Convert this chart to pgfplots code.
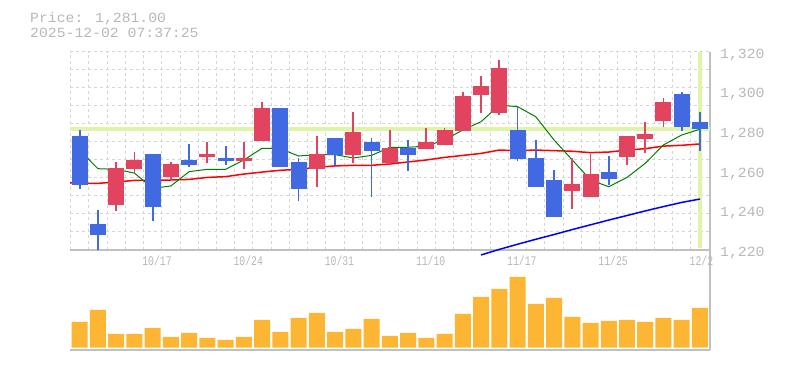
\documentclass[border=0pt]{standalone}
\usepackage{fontspec}
\usepackage{graphicx}
\usepackage{pgfplots}
\pgfplotsset{compat=1.18}
\usepackage{pgfplotstable}
\setmainfont{Liberation Mono}

\definecolor{upcol}{RGB}{226,67,95}
\definecolor{dncol}{RGB}{65,105,225}
\definecolor{volcol}{RGB}{252,182,52}
\definecolor{hlcol}{RGB}{224,244,168}
\definecolor{gridcol}{RGB}{214,214,214}
\definecolor{bordercol}{RGB}{192,192,192}
\definecolor{txtcol}{RGB}{184,184,184}
\definecolor{maA}{RGB}{0,128,0}
\definecolor{maB}{RGB}{255,0,0}
\definecolor{maC}{RGB}{0,0,255}

\newcommand\bigtxt[1]{{\fontsize{14}{14}\selectfont\scalebox{1.055}[1]{#1}}}
\newcommand\xl[1]{{\fontsize{13.2}{13.2}\selectfont\scalebox{0.74}[1]{#1}}}

\pgfplotstableread{
x o h l c
2 1242.9 1264.4 1239.8 1261.4
3 1261.0 1269.4 1258.7 1265.4
5 1257.0 1264.4 1255.3 1263.4
7 1267.0 1274.6 1264.0 1268.4
9 1265.0 1274.6 1261.0 1266.4
10 1275.1 1294.6 1275.1 1291.6
13 1261.0 1277.5 1251.9 1268.4
15 1268.1 1289.6 1264.0 1279.5
17 1264.0 1280.5 1262.7 1271.4
19 1271.1 1281.5 1271.1 1274.5
20 1273.1 1281.5 1273.1 1280.5
21 1280.2 1299.7 1280.2 1297.7
22 1298.3 1307.7 1289.2 1302.7
23 1289.2 1315.8 1288.2 1311.8
27 1249.9 1266.2 1240.8 1253.3
28 1246.9 1268.4 1246.9 1258.3
30 1267.0 1277.5 1263.0 1277.5
31 1276.1 1284.5 1269.1 1278.5
32 1285.2 1296.6 1282.2 1294.6
}\upcandles

\pgfplotstableread{
x o h l c
0 1277.5 1280.5 1250.9 1252.9
1 1233.1 1240.2 1220.0 1227.6
4 1268.4 1268.4 1234.8 1241.8
6 1265.4 1273.5 1262.0 1262.9
8 1266.4 1272.4 1262.9 1265.0
11 1291.6 1291.6 1262.0 1262.0
12 1264.4 1266.2 1244.9 1250.9
14 1276.5 1276.5 1262.9 1268.1
16 1274.5 1276.5 1246.9 1270.1
18 1271.4 1275.5 1260.0 1268.1
24 1280.5 1292.3 1265.0 1266.0
25 1266.4 1275.5 1251.9 1251.9
26 1255.3 1260.3 1236.8 1236.8
29 1259.3 1267.4 1252.9 1256.0
33 1298.7 1299.7 1280.2 1282.2
34 1284.5 1289.6 1270.1 1281.0
}\dncandles

\begin{document}
\begin{tikzpicture}[x=1pt,y=1pt]
\path[use as bounding box] (0,0) rectangle (785,370);

\node[anchor=base west, inner sep=0pt, text=txtcol] at (30,347.3) {\bigtxt{Price: 1,281.00}};
\node[anchor=base west, inner sep=0pt, text=txtcol] at (30,332.7) {\bigtxt{2025-12-02 07:37:25}};

% volume panel
\begin{axis}[
  at={(70pt,20pt)}, anchor=south west, scale only axis,
  width=640pt, height=100pt,
  xmin=-0.53, xmax=34.55, ymin=-2.3, ymax=97.7,
  axis x line*=bottom, axis y line*=right,
  axis line style={draw=bordercol, line width=1.4pt, -},
  xtick=\empty, ytick=\empty,
  minor xtick={-0.5,0.5,...,34.5},
  major tick length=0pt, minor tick length=0pt,
  xminorgrids,
  minor grid style={gridcol, dash pattern=on 3pt off 3pt, line width=1pt},
]
\addplot[ybar, bar width=0.877, bar shift=0pt, fill=volcol, draw=none] coordinates {
(0,25.7) (1,37.7) (2,13.7) (3,13.7) (4,19.7) (5,10.7) (6,14.7) (7,9.7) (8,7.7) (9,10.7)
(10,27.7) (11,15.7) (12,29.7) (13,34.7) (14,15.7) (15,18.7) (16,28.7) (17,11.7) (18,14.7) (19,9.7)
(20,13.7) (21,33.7) (22,50.7) (23,58.7) (24,70.7) (25,43.7) (26,49.7) (27,30.7) (28,24.7) (29,26.7)
(30,27.7) (31,25.7) (32,29.7) (33,27.7) (34,39.7)
};
\end{axis}

% price panel
\begin{axis}[
  at={(70pt,120pt)}, anchor=south west, scale only axis,
  width=640pt, height=198.3pt,
  xmin=-0.53, xmax=34.55, ymin=1220, ymax=1320,
  axis x line*=bottom, axis y line*=right,
  axis line style={draw=bordercol, line width=1.4pt, -},
  xtick={4,9,14,19,24,29,34},
  xticklabels={\xl{10/17},\xl{10/24},\xl{10/31},\xl{11/10},\xl{11/17},\xl{11/25},\xl{12/2}},
  minor xtick={-0.5,0.5,...,34.5},
  ytick={1220,1240,1260,1280,1300,1320},
  yticklabels={{\bigtxt{1,220}},{\bigtxt{1,240}},{\bigtxt{1,260}},{\bigtxt{1,280}},{\bigtxt{1,300}},{\bigtxt{1,320}}},
  minor ytick={1220,1229.0909,1238.1818,1247.2727,1256.3636,1265.4545,1274.5455,1283.6364,1292.7273,1301.8182,1310.9091,1320},
  major tick length=0pt, minor tick length=0pt,
  xminorgrids, yminorgrids,
  minor grid style={gridcol, dash pattern=on 3pt off 3pt, line width=1pt},
  tick label style={text=txtcol, inner sep=0pt},
  xticklabel style={anchor=base west, xshift=-10.5pt, yshift=-16pt},
  yticklabel style={anchor=west, xshift=10pt, yshift=-3pt},
  clip=false,
]
% current price highlight
\addplot[hlcol, line width=3.2pt, forget plot] coordinates {(-0.53,1281) (34.55,1281)};
\addplot[hlcol, line width=3.2pt, forget plot] coordinates {(34,1220.9) (34,1320)};

% moving averages
\addplot[maC, line width=1.5pt, forget plot] coordinates {
(22,1217.5) (23,1220.3) (24,1222.9) (25,1225.4) (26,1227.8) (27,1230.3) (28,1232.7)
(29,1235.1) (30,1237.4) (31,1239.7) (32,1241.9) (33,1244.0) (34,1245.7)};
\addplot[maB, line width=1.5pt, forget plot] coordinates {
(-0.53,1253.9) (0,1253.7) (1,1253.6) (2,1254.3) (3,1255.1) (4,1255.1) (5,1255.3) (6,1255.6)
(7,1256.6) (8,1257.0) (9,1258.3) (10,1259.3) (11,1260.2) (12,1260.7) (13,1261.7) (14,1262.4)
(15,1262.7) (16,1262.7) (17,1263.4) (18,1264.4) (19,1265.4) (20,1266.7) (21,1267.7) (22,1268.7)
(23,1270.4) (24,1270.1) (25,1270.4) (26,1270.1) (27,1269.8) (28,1269.1) (29,1269.4) (30,1270.4)
(31,1271.1) (32,1272.4) (33,1272.8) (34,1273.5)};
\addplot[maA, line width=1pt, forget plot] coordinates {
(0,1270.3) (1,1261.0) (2,1260.7) (3,1258.8) (4,1251.1) (5,1252.3) (6,1259.5) (7,1260.7)
(8,1260.7) (9,1265.4) (10,1271.3) (11,1271.1) (12,1267.4) (13,1268.1) (14,1268.1) (15,1266.4)
(16,1267.7) (17,1271.8) (18,1271.8) (19,1272.4) (20,1275.5) (21,1280.5) (22,1284.7) (23,1293.0)
(24,1292.3) (25,1287.2) (26,1275.5) (27,1265.4) (28,1255.3) (29,1251.9) (30,1256.6) (31,1263.7)
(32,1273.0) (33,1278.0) (34,1280.9)};

% candles: wicks
\addplot[draw=none, mark=none, forget plot,
  error bars/.cd, y dir=plus, y explicit, error mark=none,
  error bar style={draw=upcol, line width=1.8pt, solid}]
  table[x=x, y=l, y error expr=\thisrow{h}-\thisrow{l}] {\upcandles};
\addplot[draw=none, mark=none, forget plot,
  error bars/.cd, y dir=plus, y explicit, error mark=none,
  error bar style={draw=dncol, line width=1.8pt, solid}]
  table[x=x, y=l, y error expr=\thisrow{h}-\thisrow{l}] {\dncandles};
% candles: bodies
\addplot[draw=none, mark=none, forget plot,
  error bars/.cd, y dir=plus, y explicit, error mark=none,
  error bar style={draw=upcol, line width=16pt, solid}]
  table[x=x, y=o, y error expr=\thisrow{c}-\thisrow{o}] {\upcandles};
\addplot[draw=none, mark=none, forget plot,
  error bars/.cd, y dir=plus, y explicit, error mark=none,
  error bar style={draw=dncol, line width=16pt, solid}]
  table[x=x, y=c, y error expr=\thisrow{o}-\thisrow{c}] {\dncandles};
\end{axis}
\end{tikzpicture}
\end{document}
